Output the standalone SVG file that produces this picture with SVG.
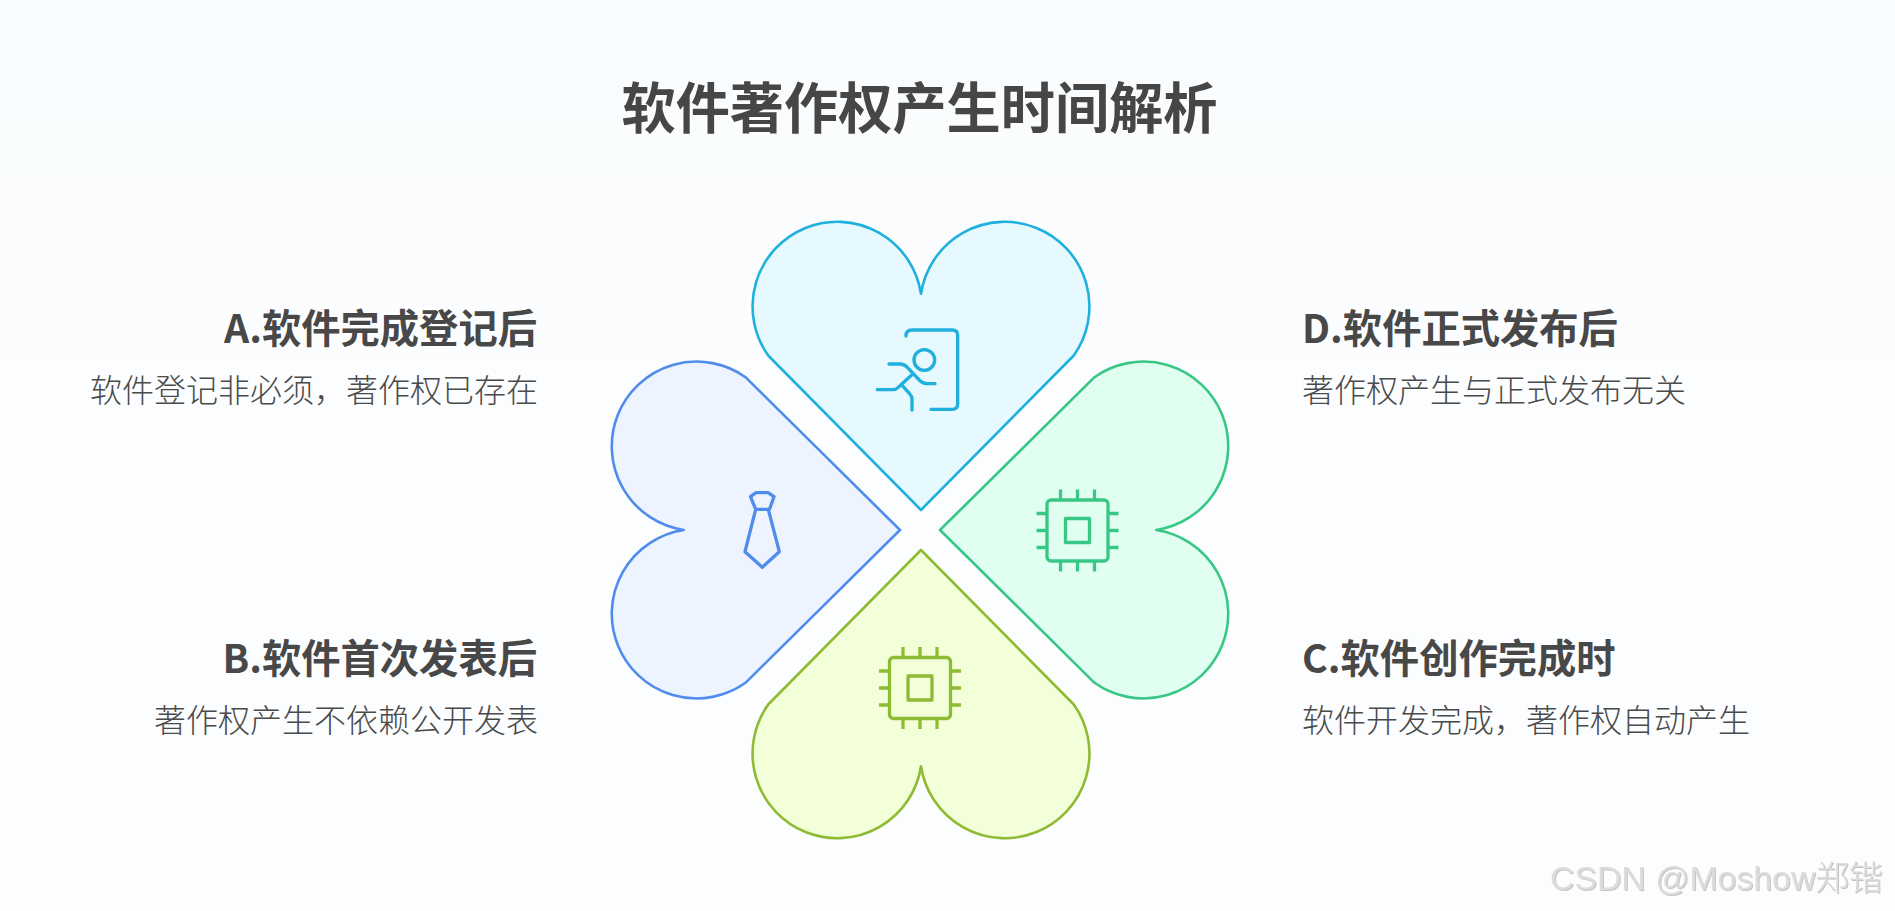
<svg xmlns="http://www.w3.org/2000/svg" width="1895" height="911" viewBox="0 0 1895 911">
<style>
text{font-family:"Noto Sans CJK SC","Liberation Sans",sans-serif;fill:#444}
.h{font-size:39.300px;font-weight:700;fill:#484848}
.s{font-size:32px;font-weight:300;fill:#4a4a4a}
.l{text-anchor:end}
.petal{stroke-width:2.600;stroke-linejoin:round}
.ic{fill:none;stroke-width:3.300;stroke-linecap:round;stroke-linejoin:round}
.pin{stroke-linecap:butt}
</style>
<defs>
<linearGradient id="bg" x1="0" y1="0" x2="0" y2="1"><stop offset="0" stop-color="#f9fcfe"/><stop offset="0.4" stop-color="#fcfdfe"/><stop offset="1" stop-color="#fcfdfe"/></linearGradient>
<path id="heart" d="M0-20L-152.800-174.500A84.700 84.700 0 1 1 0-236.300A84.700 84.700 0 1 1 152.800-174.500Z"/>
<g id="chip"><rect x="-30.500" y="-30.500" width="61" height="61" rx="4"/><rect x="-12" y="-12" width="24" height="24"/><path class="pin" d="M-17-30V-41M0-30V-41M17-30V-41M-17 30V41M0 30V41M17 30V41M-30-17H-41M-30 0H-41M-30 17H-41M30-17H41M30 0H41M30 17H41"/></g>
<filter id="em" x="-5%" y="-20%" width="110%" height="140%"><feDropShadow dx="1" dy="1" stdDeviation="0.6" flood-color="#aaa" flood-opacity="0.7"/></filter>
</defs>
<rect width="1895" height="911" fill="url(#bg)"/>
<text id="title" x="919.500" y="127.500" text-anchor="middle" font-size="54.200" font-weight="700" style="fill:#464646">软件著作权产生时间解析</text>

<g id="node-top">
<use href="#heart" transform="translate(921 530)" class="petal" fill="#e6f9ff" stroke="#1fb0de"/>
<g class="ic" stroke="#1fb0de" transform="translate(850 310) scale(.3333)" style="stroke-width:10">
<path d="M168 78Q168 60 186 60H307Q323 60 323 76V282Q323 298 307 298H243"/>
<circle cx="223" cy="150" r="31"/>
<path d="M117 162H150Q163 162 172 172L205 207Q214 220 232 221H255"/>
<path d="M185 195L145 232Q138 239 128 239H82"/>
<path d="M155 225L178 250Q186 258 186 268V300"/>
</g>
</g>

<g id="node-left">
<use href="#heart" transform="translate(920 530) rotate(-90)" class="petal" fill="#eef4ff" stroke="#4f8cec"/>
<path class="ic" stroke="#4f8cec" d="M750.500 496.700L756 492.700H768L774 496.700L769.500 509.300H755.700L750.500 496.700ZM755.700 509.300L745 551.700L762.300 567.300L779.300 551.700L768.300 509.300"/>
</g>

<g id="node-right">
<use href="#heart" transform="translate(920 530) rotate(90)" class="petal" fill="#e0fff0" stroke="#38c785"/>
<use href="#chip" transform="translate(1077.500 530.500)" class="ic" stroke="#38c785"/>
</g>

<g id="node-bottom">
<use href="#heart" transform="translate(921 530) rotate(180)" class="petal" fill="#f2ffd9" stroke="#8fbb34"/>
<use href="#chip" transform="translate(920 688)" class="ic" stroke="#8fbb34"/>
</g>

<g id="label-a"><text class="h l" x="537" y="343">A.软件完成登记后</text><text class="s l" x="538" y="402">软件登记非必须，著作权已存在</text></g>
<g id="label-b"><text class="h l" x="537" y="673">B.软件首次发表后</text><text class="s l" x="538" y="732">著作权产生不依赖公开发表</text></g>
<g id="label-d"><text class="h" x="1302" y="343">D.软件正式发布后</text><text class="s" x="1302" y="402">著作权产生与正式发布无关</text></g>
<g id="label-c"><text class="h" x="1302" y="673">C.软件创作完成时</text><text class="s" x="1302" y="732">软件开发完成，著作权自动产生</text></g>
<text id="watermark" x="1550" y="890" font-size="33.800" filter="url(#em)" style="font-family:'Liberation Sans','Noto Sans CJK SC',sans-serif;fill:#dcdcdc;font-weight:300">CSDN @Moshow郑锴</text>
</svg>
